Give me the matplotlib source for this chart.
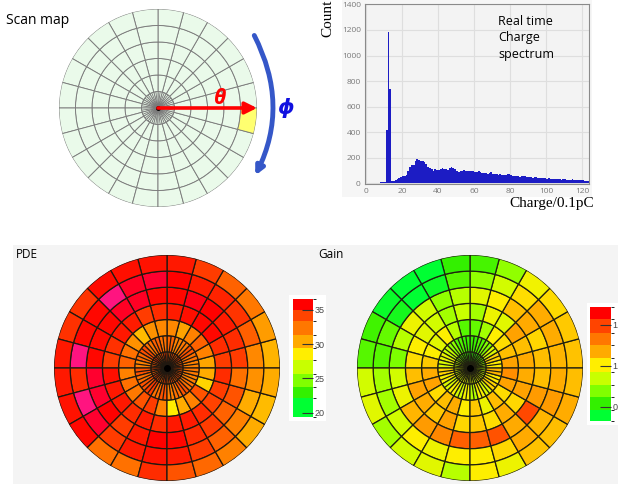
import numpy as np
import matplotlib
matplotlib.use("Agg")
import matplotlib.pyplot as plt
from matplotlib.colors import LinearSegmentedColormap, ListedColormap, BoundaryNorm, Normalize
from matplotlib.patches import Rectangle, FancyArrowPatch
from matplotlib.cm import ScalarMappable

plt.rcParams["font.family"] = ["Open Sans", "DejaVu Sans"]

W, H = 618, 484

# ---- charge spectrum (channel = 0.1 pC) ----
charge = np.arange(124)
counts = [3, 3, 4, 4, 5, 5, 6, 6, 7, 8,
          10, 420, 1185, 735, 20, 22, 25, 35, 45, 50,
          55, 60, 65, 95, 130, 140, 145, 175, 190, 185,
          175, 178, 165, 150, 125, 120, 115, 100, 110, 108,
          104, 112, 118, 110, 112, 108, 120, 128, 120, 112,
          100, 90, 95, 100, 102, 98, 100, 96, 95, 98,
          92, 90, 95, 88, 80, 82, 78, 75, 82, 85,
          75, 72, 70, 68, 72, 65, 62, 65, 70, 72,
          62, 60, 58, 60, 55, 52, 55, 58, 55, 50,
          52, 48, 45, 48, 46, 42, 44, 40, 42, 40,
          38, 40, 36, 35, 34, 36, 38, 32, 30, 32,
          34, 30, 28, 30, 32, 28, 26, 30, 28, 25,
          24, 22, 20, 18]

# ---- PDE map: rings from centre outwards, 24 phi sectors (0 deg = east, ccw) ----
pde_r1 = [33.8, 33.2, 34.3, 33.4, 33.8, 33.0, 34.3, 33.6, 33.2, 34.5, 33.6, 33.4,
          34.0, 33.2, 34.3, 33.6, 33.0, 34.3, 33.4, 33.8, 33.2, 34.0, 33.4, 33.6]
pde_r2 = [31.9, 32.5, 33.6, 32.2, 31.9, 33.0, 32.5, 33.2, 32.5, 33.8, 32.8, 31.9,
          33.6, 32.5, 33.6, 34.3, 32.5, 33.6, 31.9, 32.5, 33.6, 32.5, 31.9, 32.2]
pde_r3 = [30.5, 31.9, 33.0, 31.9, 30.6, 31.6, 31.6, 31.3, 29.9, 31.3, 32.5, 33.0,
          31.9, 32.5, 32.2, 33.6, 34.3, 31.9, 28.6, 30.3, 31.9, 33.6, 29.2, 30.3]
pde_r4 = [34.3, 34.7, 35.6, 35.6, 35.4, 35.1, 34.7, 34.3, 35.1, 35.2, 34.6, 34.3,
          35.4, 35.2, 35.2, 34.7, 35.1, 34.7, 35.2, 35.1, 34.7, 34.2, 34.3, 34.7]
pde_r5 = [34.3, 34.7, 35.1, 35.7, 36.0, 35.6, 35.6, 36.2, 36.2, 35.6, 35.5, 35.6,
          36.3, 36.3, 35.7, 34.3, 35.1, 35.7, 35.6, 34.7, 34.3, 33.0, 33.6, 32.5]
pde_r6 = [31.6, 33.2, 34.5, 34.9, 35.1, 35.7, 36.3, 36.2, 38.0, 35.6, 35.6, 38.0,
          34.7, 38.0, 36.3, 34.3, 35.1, 35.3, 35.1, 34.3, 33.0, 31.9, 30.3, 31.3]
pde_r7 = [30.1, 30.9, 32.2, 33.0, 34.3, 35.2, 35.3, 35.4, 35.5, 34.5, 34.6, 35.2,
          35.2, 35.3, 35.6, 32.5, 32.5, 34.7, 33.6, 32.8, 31.9, 30.3, 29.9, 30.3]

# ---- Gain map ----
gain_r1 = [0.80, 0.70, 0.62, 0.55, 0.50, 0.50, 0.52, 0.55, 0.60, 0.70, 0.80, 0.85,
           0.90, 0.85, 0.92, 0.88, 0.95, 0.90, 0.92, 0.88, 0.95, 0.90, 0.85, 0.82]
gain_r2 = [1.02, 1.08, 0.90, 0.70, 0.60, 0.55, 0.55, 0.60, 0.72, 0.85, 0.95, 0.90,
           1.08, 1.00, 0.90, 1.00, 0.88, 0.98, 0.80, 1.00, 0.90, 1.08, 1.02, 1.15]
gain_r3 = [1.20, 1.13, 1.05, 1.01, 0.77, 0.64, 0.61, 0.81, 1.01, 0.92, 1.01, 1.10,
           1.17, 1.20, 1.05, 1.13, 1.17, 1.01, 1.10, 0.96, 1.13, 1.05, 1.20, 1.26]
gain_r4 = [1.18, 1.13, 1.20, 0.92, 0.96, 0.77, 0.85, 0.77, 0.88, 0.92, 1.01, 1.05,
           1.13, 1.20, 1.17, 1.10, 1.20, 1.07, 1.10, 1.05, 1.17, 1.07, 1.20, 1.17]
gain_r5 = [1.13, 1.07, 1.18, 1.13, 1.01, 0.92, 0.81, 0.73, 0.88, 0.96, 0.81, 0.69,
           0.88, 0.96, 1.15, 1.22, 1.28, 1.40, 1.40, 1.44, 1.18, 1.47, 1.22, 1.13]
gain_r6 = [1.15, 1.17, 1.17, 1.05, 0.88, 0.73, 0.61, 0.43, 0.37, 0.46, 0.64, 0.61,
           0.77, 0.77, 0.88, 1.01, 0.96, 1.01, 1.01, 1.07, 1.18, 1.15, 1.22, 1.17]
gain_r7 = [1.12, 1.10, 1.06, 0.97, 0.73, 0.58, 0.54, 0.35, 0.36, 0.42, 0.57, 0.61,
           0.88, 0.92, 0.77, 0.88, 0.92, 0.81, 1.01, 0.96, 1.12, 1.13, 1.17, 1.13]

pde_rings = [pde_r1, pde_r2, pde_r3, pde_r4, pde_r5, pde_r6, pde_r7]
gain_rings = [gain_r1, gain_r2, gain_r3, gain_r4, gain_r5, gain_r6, gain_r7]

band_colors = ["#00ff33", "#33f000", "#80ff00", "#c8ff00", "#ffee00",
               "#ffaa00", "#ff7700", "#ff4400", "#ff0000"]
pde_bounds = [19.4, 22.1, 23.8, 25.7, 27.7, 29.4, 31.3, 33.3, 35.0, 36.55]
gain_bounds = [0.325, 0.457, 0.621, 0.765, 0.93, 1.095, 1.26, 1.40, 1.57, 1.72]
pde_ticks = [20, 25, 30, 35]
gain_ticks = [0.5, 1.0, 1.5]
gain_ticklabels = ["0.5", "1", "1.5"]

scan_rings = 6
scan_cell = (5, 23)   # highlighted (ring, sector)


def box(x0, y0, x1, y1):
    return [x0 / W, 1 - y1 / H, (x1 - x0) / W, (y1 - y0) / H]


def cell_cmap(bounds, top, over):
    lo, hi = bounds[0], bounds[-1]
    mids = [(a + b) / 2 for a, b in zip(bounds[:-1], bounds[1:])]
    pos = [0] + [(m - lo) / (hi - lo) for m in mids] + [1]
    cols = [band_colors[0]] + band_colors + [top]
    cm = LinearSegmentedColormap.from_list("c", list(zip(pos, cols)))
    return cm.with_extremes(over=over)


def polar_map(rect, rings, colors, edge, lw, inner_spokes=2):
    ax = fig.add_axes(rect, projection="polar")
    nsec = len(rings[0])
    w = 2 * np.pi / nsec
    th = (np.arange(nsec) + 0.5) * w
    for i, c in enumerate(colors):
        ax.bar(th, 1, width=w, bottom=i, color=c, edgecolor=edge, linewidth=lw)
    ax.vlines(th, 0, inner_spokes, colors=edge, lw=lw)
    ax.set_ylim(0, len(rings))
    ax.set_axis_off()
    return ax


def colorbar(rect, bounds, ticks, labels):
    cax = fig.add_axes(rect)
    sm = ScalarMappable(norm=BoundaryNorm(bounds, len(band_colors)),
                        cmap=ListedColormap(band_colors))
    cb = fig.colorbar(sm, cax=cax, ticks=ticks, spacing="proportional")
    cb.outline.set_visible(False)
    cb.set_ticklabels(labels)
    cax.tick_params(direction="in", length=8, width=0.8, color="#333333",
                    labelsize=6.5, labelcolor="#444444", pad=1)
    for t in cax.get_yticklabels():
        t.set_family(["Liberation Sans Narrow", "Liberation Sans"])


fig = plt.figure(figsize=(W / 100, H / 100), dpi=100)

# background panels
fig.add_artist(Rectangle((13 / W, 0), 1, (H - 245) / H, transform=fig.transFigure,
                         facecolor="#f4f4f4", edgecolor="none", zorder=-2))
fig.add_artist(Rectangle((342 / W, 1 - 197 / H), 250 / W, 197 / H, transform=fig.transFigure,
                         facecolor="#f6f6f6", edgecolor="none", zorder=-2))
fig.add_artist(Rectangle((289 / W, 1 - 421 / H), 37 / W, 126 / H, transform=fig.transFigure,
                         facecolor="white", edgecolor="none", zorder=-1))
fig.add_artist(Rectangle((587 / W, 1 - 425 / H), 40 / W, 122 / H, transform=fig.transFigure,
                         facecolor="white", edgecolor="none", zorder=-1))

# ---- scan map ----
scan_cols = [["#ffff70" if (i, k) == scan_cell else "#eafaea" for k in range(24)]
             for i in range(scan_rings)]
sax = polar_map(box(59, 9, 257, 207), [[0] * 24] * scan_rings, scan_cols, "#7a7a7a", 0.65,
                inner_spokes=1)
sax.annotate("", xy=(0, scan_rings), xytext=(0, 0),
             arrowprops=dict(arrowstyle="-|>,head_length=0.7,head_width=0.35", color="#ff0000",
                             lw=2.6, shrinkA=0, shrinkB=0))
sax.plot([0], [0], "o", color="black", ms=2.5)
sax.text(np.deg2rad(9), 3.8, "θ", color="#ff0000", fontsize=15, fontstyle="italic",
         fontweight="bold", ha="center", va="center")
sax.text(0, 7.75, "ϕ", color="#1010e0", fontsize=15, fontstyle="italic",
         fontweight="bold", ha="center", va="center", family="DejaVu Sans")
fig.add_artist(FancyArrowPatch((253 / W, 1 - 33 / H), (254 / W, 1 - 178 / H),
                               transform=fig.transFigure, connectionstyle="arc3,rad=-0.26",
                               arrowstyle="-|>", mutation_scale=12, lw=3.5, color="#3557c8"))
fig.text(6 / W, 1 - 20 / H, "Scan map", fontsize=10, va="center", ha="left")

# ---- charge spectrum ----
hax = fig.add_axes(box(365, 4, 589, 184))
hax.set_facecolor("#f3f3f3")
hax.bar(charge, counts, width=1, align="edge", color="#1c1cc4", linewidth=0)
hax.set_xlim(-0.5, 123.7)
hax.set_ylim(-5, 1403)
hax.set_xticks(range(0, 121, 20))
hax.set_yticks(range(0, 1401, 200))
hax.grid(color="#dedede", lw=0.8)
hax.set_axisbelow(True)
for s in hax.spines.values():
    s.set_color("#8a8a8a")
hax.tick_params(length=0, labelsize=6, labelcolor="#7a7a7a", pad=3)
hax.text(0.595, 0.94, "Real time\nCharge\nspectrum", transform=hax.transAxes, fontsize=9,
         va="top", ha="left", linespacing=1.35)
fig.text(328 / W, 1.0, "Count", rotation=90, ha="center", va="top",
         family="Liberation Serif", fontsize=11)
fig.text(552 / W, 1 - 204 / H, "Charge/0.1pC", ha="center", va="center",
         family="Liberation Serif", fontsize=11)

# ---- PDE ----
pde_cmap = cell_cmap(pde_bounds, "#ff0040", "#ff1480")
pde_norm = Normalize(pde_bounds[0], pde_bounds[-1])
pax = polar_map(box(54, 255, 280, 481), pde_rings,
                [pde_cmap(pde_norm(np.array(r))) for r in pde_rings], "#201810", 0.9)
pax.plot([0], [0], "o", color="black", ms=4)
fig.text(16 / W, 1 - 255 / H, "PDE", fontsize=8.5, va="center", ha="left")
colorbar(box(293, 299, 313, 417), pde_bounds, pde_ticks, [str(t) for t in pde_ticks])

# ---- Gain ----
gain_cmap = cell_cmap(gain_bounds, "#ff0000", "#ff0000")
gain_norm = Normalize(gain_bounds[0], gain_bounds[-1])
gax = polar_map(box(357, 255, 583, 481), gain_rings,
                [gain_cmap(gain_norm(np.array(r))) for r in gain_rings], "#202010", 0.9)
gax.plot([0], [0], "o", color="black", ms=4)
fig.text(318 / W, 1 - 255 / H, "Gain", fontsize=8.5, va="center", ha="left")
colorbar(box(590, 307, 611, 421), gain_bounds, gain_ticks, gain_ticklabels)

fig.savefig("out.png", dpi=100)
